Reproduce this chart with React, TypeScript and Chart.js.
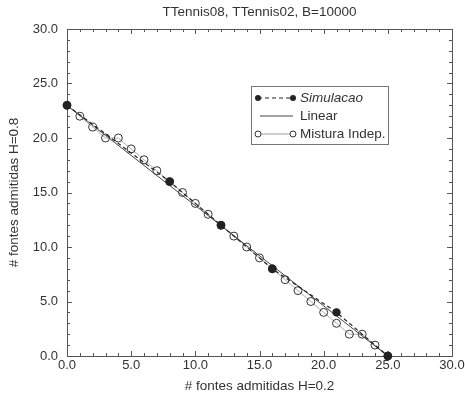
import React, { useEffect, useRef } from "react";
import { Chart, registerables } from "chart.js";

Chart.register(...registerables);

const chartTitle = "TTennis08, TTennis02, B=10000";
const xTitle = "# fontes admitidas H=0.2";
const yTitle = "# fontes admitidas H=0.8";
const seriesNames = ["Simulacao", "Linear", "Mistura Indep."];

const simX = [0, 8, 12, 16, 21, 25];
const simY = [23, 16, 12, 8, 4, 0];

const linX = [0, 25];
const linY = [23, 0];

const mixX = [0, 1, 2, 3, 4, 5, 6, 7, 8, 9, 10, 11, 12, 13, 14, 15, 16, 17, 18, 19, 20, 21, 22, 23, 24, 25];
const mixY = [23, 22, 21, 20, 20, 19, 18, 17, 16, 15, 14, 13, 12, 11, 10, 9, 8, 7, 6, 5, 4, 3, 2, 2, 1, 0];

const axisMin = 0;
const axisMax = 30;
const majorStep = 5;
const minorStep = 1;

const FONT = "'Liberation Sans', Arial, Helvetica, sans-serif";
const TEXT = "#333";

const zip = (xs: number[], ys: number[]) => xs.map((x, i) => ({ x, y: ys[i] }));

const framePlugin = {
  id: "frameTicks",
  beforeDatasetsDraw(chart: any) {
    const { ctx, chartArea: a, scales } = chart;
    const xs = scales.x;
    const ys = scales.y;
    ctx.save();
    ctx.strokeStyle = "#555";
    ctx.lineWidth = 1;
    ctx.strokeRect(Math.round(a.left) + 0.5, Math.round(a.top) + 0.5, Math.round(a.right - a.left), Math.round(a.bottom - a.top));
    ctx.beginPath();
    for (let v = axisMin; v <= axisMax; v += minorStep) {
      const len = v % majorStep === 0 ? 5 : 3;
      const px = Math.round(xs.getPixelForValue(v)) + 0.5;
      ctx.moveTo(px, a.bottom);
      ctx.lineTo(px, a.bottom - len);
      ctx.moveTo(px, a.top);
      ctx.lineTo(px, a.top + len);
      const py = Math.round(ys.getPixelForValue(v)) + 0.5;
      ctx.moveTo(a.left, py);
      ctx.lineTo(a.left + len, py);
      ctx.moveTo(a.right, py);
      ctx.lineTo(a.right - len, py);
    }
    ctx.stroke();
    ctx.restore();
  },
};

const legendPlugin = {
  id: "boxLegend",
  afterDatasetsDraw(chart: any) {
    const { ctx, chartArea: a } = chart;
    const bx = Math.round(a.left + 184);
    const by = Math.round(a.top + 57);
    const bw = 137;
    const bh = 58;
    ctx.save();
    ctx.fillStyle = "#fff";
    ctx.fillRect(bx, by, bw, bh);
    ctx.strokeStyle = "#777";
    ctx.lineWidth = 1;
    ctx.strokeRect(bx + 0.5, by + 0.5, bw, bh);

    const x1 = bx + 7;
    const x2 = bx + 42;
    const tx = bx + 49;
    const rows = [by + 12, by + 30, by + 48];

    // Simulacao
    ctx.strokeStyle = "#222";
    ctx.lineWidth = 1.2;
    ctx.setLineDash([4, 3]);
    ctx.beginPath();
    ctx.moveTo(x1, rows[0]);
    ctx.lineTo(x2, rows[0]);
    ctx.stroke();
    ctx.setLineDash([]);
    ctx.fillStyle = "#222";
    [x1, x2].forEach((x) => {
      ctx.beginPath();
      ctx.arc(x, rows[0], 3, 0, Math.PI * 2);
      ctx.fill();
    });

    // Linear
    ctx.strokeStyle = "#444";
    ctx.lineWidth = 1;
    ctx.beginPath();
    ctx.moveTo(x1 + 2, rows[1]);
    ctx.lineTo(x2, rows[1]);
    ctx.stroke();

    // Mistura
    ctx.strokeStyle = "#888";
    ctx.lineWidth = 0.8;
    ctx.beginPath();
    ctx.moveTo(x1 + 3, rows[2]);
    ctx.lineTo(x2 - 3, rows[2]);
    ctx.stroke();
    ctx.strokeStyle = "#333";
    ctx.lineWidth = 1;
    [x1, x2].forEach((x) => {
      ctx.beginPath();
      ctx.arc(x, rows[2], 3, 0, Math.PI * 2);
      ctx.stroke();
    });

    ctx.fillStyle = TEXT;
    ctx.textBaseline = "middle";
    ctx.textAlign = "left";
    ctx.font = `italic 13.5px ${FONT}`;
    ctx.fillText(seriesNames[0], tx, rows[0]);
    ctx.font = `13.5px ${FONT}`;
    ctx.fillText(seriesNames[1], tx, rows[1]);
    ctx.fillText(seriesNames[2], tx, rows[2]);
    ctx.restore();
  },
};

export default function App() {
  const ref = useRef<HTMLCanvasElement | null>(null);

  useEffect(() => {
    if (!ref.current) return;
    const fmt = (v: any) => Number(v).toFixed(1);
    const chart = new Chart(ref.current, {
      type: "scatter",
      data: {
        datasets: [
          {
            label: seriesNames[0],
            data: zip(simX, simY),
            showLine: true,
            borderColor: "#222",
            borderWidth: 1.2,
            borderDash: [4, 3],
            backgroundColor: "#222",
            pointBackgroundColor: "#222",
            pointBorderColor: "#222",
            pointRadius: 3.6,
            clip: false,
          },
          {
            label: seriesNames[1],
            data: zip(linX, linY),
            showLine: true,
            borderColor: "#444",
            borderWidth: 1,
            pointRadius: 0,
            clip: false,
          },
          {
            label: seriesNames[2],
            data: zip(mixX, mixY),
            showLine: true,
            borderColor: "#999",
            borderWidth: 0.8,
            backgroundColor: "rgba(255,255,255,0)",
            pointBackgroundColor: "rgba(255,255,255,0)",
            pointBorderColor: "#333",
            pointBorderWidth: 1,
            pointRadius: 4,
            clip: false,
          } as any,
        ],
      },
      options: {
        animation: false,
        responsive: false,
        events: [],
        layout: { padding: 0 },
        plugins: {
          legend: { display: false },
          tooltip: { enabled: false },
          title: { display: false },
        },
        scales: {
          x: {
            type: "linear",
            position: "bottom",
            min: axisMin,
            max: axisMax,
            grid: { display: false, drawTicks: false },
            border: { display: false },
            ticks: {
              stepSize: majorStep,
              padding: 2,
              color: TEXT,
              font: { family: FONT, size: 13 },
              callback: fmt,
              maxRotation: 0,
              autoSkip: false,
            },
            title: {
              display: true,
              text: xTitle,
              color: TEXT,
              font: { family: FONT, size: 13.5 },
              padding: { top: 0, bottom: 0 },
            },
            afterFit(s: any) {
              s.height = 38;
              s.paddingLeft = 0;
              s.paddingRight = 0;
            },
          },
          x2: {
            type: "linear",
            position: "top",
            min: axisMin,
            max: axisMax,
            grid: { display: false, drawTicks: false },
            border: { display: false },
            ticks: { display: false },
            title: {
              display: true,
              text: chartTitle,
              color: TEXT,
              font: { family: FONT, size: 13.5 },
              padding: { top: 4, bottom: 0 },
            },
            afterFit(s: any) {
              s.height = 29;
              s.paddingLeft = 0;
              s.paddingRight = 0;
            },
          },
          y: {
            type: "linear",
            position: "left",
            min: axisMin,
            max: axisMax,
            grid: { display: false, drawTicks: false },
            border: { display: false },
            ticks: {
              stepSize: majorStep,
              padding: 9,
              color: TEXT,
              font: { family: FONT, size: 13 },
              callback: fmt,
            },
            title: {
              display: true,
              text: yTitle,
              color: TEXT,
              font: { family: FONT, size: 13.5 },
              padding: { top: 6, bottom: 0 },
            },
            afterFit(s: any) {
              s.width = 67;
              s.paddingTop = 0;
              s.paddingBottom = 0;
            },
          },
          y2: {
            type: "linear",
            position: "right",
            min: axisMin,
            max: axisMax,
            grid: { display: false, drawTicks: false },
            border: { display: false },
            ticks: { display: false },
            afterFit(s: any) {
              s.width = 13;
              s.paddingTop = 0;
              s.paddingBottom = 0;
            },
          },
        },
      } as any,
      plugins: [framePlugin, legendPlugin],
    });
    return () => chart.destroy();
  }, []);

  return (
    <div style={{ position: "absolute", left: 0, top: 0, width: 465, height: 394, background: "#fff" }}>
      <canvas ref={ref} width={465} height={394} style={{ display: "block" }} />
    </div>
  );
}
